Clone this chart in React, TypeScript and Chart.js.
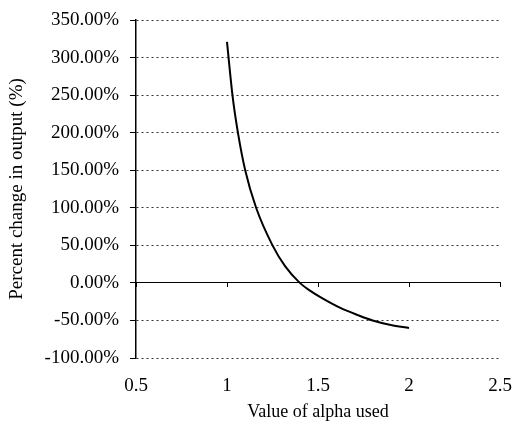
import React, { useEffect, useRef } from "react";
import { Chart, registerables } from "chart.js";

Chart.register(...registerables);

const alphaValues = [1.0, 1.03, 1.06, 1.1, 1.16, 1.25, 1.32, 1.4, 1.46, 1.52, 1.62, 1.72, 1.8, 1.9, 2.0];
const pctChange = [321, 250, 200, 150, 100, 50, 22, 0, -11, -20, -33, -43, -50, -56, -60];
const yTicks = { min: -100, max: 350, step: 50 };
const xTicks = { min: 0.5, max: 2.5, step: 0.5 };

const FONT = "'Liberation Serif', 'Times New Roman', serif";

export default function App() {
  const ref = useRef<HTMLCanvasElement | null>(null);

  useEffect(() => {
    if (!ref.current) return;
    const data = alphaValues.map((a, i) => ({ x: a, y: pctChange[i] }));
    const chart = new Chart(ref.current, {
      type: "scatter",
      data: {
        datasets: [
          {
            data,
            showLine: true,
            borderColor: "#000",
            borderWidth: 2,
            pointRadius: 0,
            cubicInterpolationMode: "monotone",
            xAxisID: "x",
            yAxisID: "y",
          },
        ],
      },
      options: {
        animation: false,
        responsive: false,
        maintainAspectRatio: false,
        layout: { padding: { top: 20, right: 14, left: 0, bottom: 0 } },
        plugins: { legend: { display: false }, tooltip: { enabled: false } },
        scales: {
          x: {
            type: "linear",
            position: { y: 0 },
            min: xTicks.min,
            max: xTicks.max,
            ticks: { display: false, stepSize: xTicks.step },
            grid: { drawOnChartArea: false, drawTicks: true, tickLength: 4, color: "#000" },
            border: { display: true, color: "#000", width: 1 },
          },
          x2: {
            type: "linear",
            position: "bottom",
            min: xTicks.min,
            max: xTicks.max,
            ticks: {
              stepSize: xTicks.step,
              color: "#000",
              font: { family: FONT, size: 19 },
              padding: 17,
              callback: (v: any) => String(Number(v)),
            },
            grid: { display: false, drawTicks: false },
            border: { display: false },
            title: {
              display: true,
              text: "Value of alpha used",
              color: "#000",
              font: { family: FONT, size: 18 },
              padding: { top: 5, bottom: 5 },
            },
            afterFit: (s: any) => {
              s.height = 70;
              s.paddingLeft = 0;
              s.paddingRight = 0;
            },
          },
          y: {
            type: "linear",
            min: yTicks.min,
            max: yTicks.max,
            ticks: {
              stepSize: yTicks.step,
              color: "#000",
              font: { family: FONT, size: 19 },
              padding: 11,
              callback: (v: any) => Number(v).toFixed(2) + "%",
            },
            grid: { color: "#333", tickLength: 6, tickColor: "#000", lineWidth: 1 },
            border: { display: true, color: "#000", width: 1.5, dash: [2, 3] },
            title: {
              display: true,
              text: "Percent change in output (%)",
              color: "#000",
              font: { family: FONT, size: 19 },
              padding: { top: 6, bottom: 6 },
            },
            afterFit: (s: any) => {
              s.width = 136;
              s.paddingTop = 0;
              s.paddingBottom = 0;
            },
          },
        },
      },
    });
    return () => chart.destroy();
  }, []);

  return (
    <div style={{ position: "fixed", left: 0, top: 0, width: 514, height: 428, background: "#fff" }}>
      <canvas ref={ref} width={514} height={428} style={{ width: 514, height: 428 }} />
    </div>
  );
}
